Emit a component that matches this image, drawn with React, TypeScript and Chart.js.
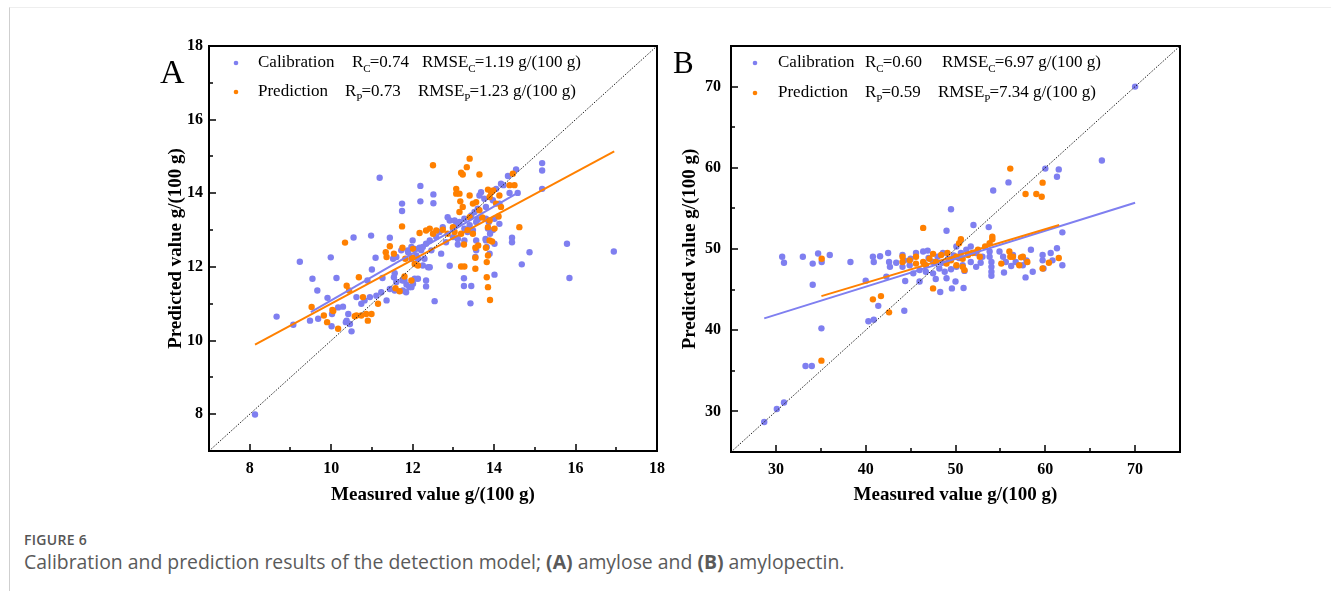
import React, { useEffect, useRef } from 'react';
import { Chart, registerables } from 'chart.js';
Chart.register(...registerables);

const BLUE = '#7f7ff0';
const ORANGE = '#ff8000';
const SERIF = '"Liberation Serif", "Times New Roman", serif';

// ---------- Panel A (amylose) ----------
const A_X_TICKS = [8, 10, 12, 14, 16, 18];
const A_Y_TICKS = [8, 10, 12, 14, 16, 18];
const A_MINOR = [7, 9, 11, 13, 15, 17];
const A_RANGE = [7, 18];
const A_DIAG: [number, number][] = [[7, 7], [18, 18]];
const A_CAL_FIT: [number, number][] = [[9.5, 10.77], [14.62, 14.04]];
const A_PRED_FIT: [number, number][] = [[8.13, 9.89], [16.95, 15.14]];
const A_STATS = { rc: '0.74', rmsec: '1.19', rp: '0.73', rmsep: '1.23' };

const A_CAL: [number, number][] = [
  [8.13, 7.99], [8.66, 10.65], [9.07, 10.43], [9.23, 12.14], [9.48, 10.54], [9.54, 11.68], [9.66, 11.36],
  [9.68, 10.59], [9.91, 11.16], [9.99, 12.26], [10.01, 10.39], [10.02, 10.72], [10.13, 11.7], [10.17, 10.9],
  [10.29, 10.92], [10.36, 10.5], [10.38, 10.54], [10.42, 10.72], [10.46, 10.45], [10.5, 10.25], [10.55, 12.8],
  [10.62, 11.18], [10.74, 11.0], [10.82, 11.09], [10.89, 11.63], [10.95, 11.18], [10.98, 12.85], [11.0, 11.93],
  [11.09, 12.25], [11.11, 11.22], [11.19, 14.42], [11.23, 11.31], [11.26, 11.7], [11.36, 11.09], [11.44, 11.4],
  [11.44, 12.79], [11.52, 12.22], [11.54, 11.72], [11.56, 11.36], [11.56, 11.83], [11.6, 11.59], [11.6, 12.27],
  [11.72, 12.45], [11.74, 13.72], [11.74, 13.52], [11.75, 11.63], [11.76, 11.36], [11.8, 11.63], [11.84, 11.31],
  [11.85, 11.52], [11.88, 12.45], [11.89, 12.4], [11.92, 11.45], [11.97, 11.45], [11.97, 12.22], [11.97, 12.54],
  [12.0, 12.72], [12.01, 11.54], [12.05, 11.68], [12.05, 12.49], [12.09, 12.31], [12.13, 11.68], [12.13, 12.22],
  [12.17, 12.52], [12.19, 14.2], [12.19, 13.78], [12.21, 12.45], [12.25, 12.04], [12.25, 12.54], [12.29, 12.22],
  [12.33, 11.47], [12.33, 11.63], [12.33, 12.63], [12.38, 11.99], [12.42, 11.99], [12.42, 12.72], [12.46, 12.45],
  [12.51, 13.97], [12.51, 13.73], [12.54, 11.07], [12.58, 12.81], [12.66, 12.95], [12.7, 12.36], [12.74, 13.08],
  [12.82, 12.67], [12.86, 13.35], [12.91, 13.26], [12.91, 12.03], [12.99, 13.04], [12.99, 12.81], [13.03, 13.26],
  [13.07, 13.13], [13.11, 12.76], [13.11, 12.61], [13.15, 13.22], [13.26, 11.69], [13.26, 11.48], [13.27, 13.31],
  [13.27, 13.04], [13.27, 12.72], [13.35, 12.95], [13.4, 13.13], [13.42, 11.01], [13.44, 13.4], [13.44, 11.48],
  [13.48, 13.0], [13.52, 13.49], [13.54, 12.27], [13.56, 13.22], [13.56, 12.72], [13.56, 12.45], [13.6, 13.58],
  [13.6, 13.29], [13.64, 13.94], [13.68, 14.03], [13.76, 13.85], [13.79, 12.76], [13.8, 13.63], [13.8, 13.31],
  [13.8, 12.72], [13.82, 12.54], [13.85, 13.04], [13.87, 13.22], [13.89, 12.36], [13.9, 12.9], [13.93, 14.03],
  [13.97, 13.81], [13.97, 13.0], [14.01, 13.31], [14.01, 12.63], [14.01, 11.79], [14.05, 14.12], [14.13, 13.72],
  [14.13, 13.17], [14.17, 14.26], [14.23, 14.22], [14.34, 14.47], [14.38, 14.01], [14.44, 12.79], [14.44, 12.67],
  [14.54, 14.65], [14.58, 14.01], [14.68, 12.07], [14.87, 12.4], [15.18, 14.82], [15.18, 14.62], [15.18, 14.12],
  [15.79, 12.63], [15.85, 11.7], [16.94, 12.42],
];

const A_PRED: [number, number][] = [
  [9.52, 10.91], [9.82, 10.68], [9.9, 10.5], [10.03, 10.83], [10.05, 10.8], [10.17, 10.32], [10.34, 12.66],
  [10.38, 11.49], [10.44, 11.36], [10.58, 10.66], [10.62, 10.68], [10.68, 11.72], [10.74, 10.68], [10.78, 11.18],
  [10.86, 10.72], [10.9, 10.54], [10.99, 10.72], [11.15, 11.0], [11.34, 12.4], [11.36, 12.27], [11.44, 12.56],
  [11.54, 12.36], [11.58, 11.42], [11.68, 11.34], [11.74, 13.1], [11.75, 12.52], [11.8, 11.74], [11.82, 12.22],
  [11.97, 11.63], [11.99, 12.25], [12.01, 12.49], [12.05, 12.08], [12.13, 12.04], [12.17, 12.92], [12.33, 12.99],
  [12.42, 13.04], [12.5, 14.76], [12.5, 12.9], [12.58, 12.99], [12.74, 13.01], [12.86, 12.9], [12.99, 13.08],
  [13.03, 12.95], [13.07, 14.12], [13.07, 13.99], [13.15, 13.99], [13.15, 13.49], [13.17, 13.78], [13.19, 14.56],
  [13.19, 12.9], [13.19, 12.01], [13.23, 14.51], [13.23, 13.63], [13.26, 12.61], [13.27, 12.01], [13.33, 14.71],
  [13.35, 13.0], [13.4, 14.94], [13.4, 13.94], [13.4, 13.35], [13.48, 13.72], [13.48, 12.9], [13.54, 12.52],
  [13.54, 12.25], [13.54, 11.95], [13.56, 13.76], [13.61, 12.58], [13.64, 14.51], [13.64, 13.54], [13.71, 13.34],
  [13.8, 12.52], [13.82, 12.13], [13.82, 11.72], [13.85, 14.1], [13.85, 13.08], [13.85, 12.31], [13.85, 11.45],
  [13.89, 13.9], [13.89, 13.26], [13.89, 12.72], [13.9, 11.1], [13.93, 14.03], [13.95, 12.69], [13.98, 14.08],
  [14.01, 13.04], [14.05, 13.72], [14.11, 13.37], [14.13, 13.94], [14.17, 13.63], [14.38, 14.22], [14.46, 14.53],
  [14.5, 14.22], [14.62, 13.08],
];

// ---------- Panel B (amylopectin) ----------
const B_TICKS = [30, 40, 50, 60, 70];
const B_MINOR = [25, 35, 45, 55, 65, 75];
const B_RANGE = [25, 75];
const B_DIAG: [number, number][] = [[25, 25], [75, 75]];
const B_CAL_FIT: [number, number][] = [[28.7, 41.46], [70.0, 55.7]];
const B_PRED_FIT: [number, number][] = [[35.07, 44.2], [61.55, 52.95]];
const B_STATS = { rc: '0.60', rmsec: '6.97', rp: '0.59', rmsep: '7.34' };

const B_CAL: [number, number][] = [
  [28.7, 28.7], [30.1, 30.3], [30.7, 49.05], [30.9, 48.3], [30.9, 31.1], [33.0, 49.05], [33.3, 35.6],
  [34.0, 35.6], [34.1, 48.2], [34.1, 45.6], [34.7, 49.45], [35.1, 48.4], [35.07, 40.23], [36.0, 49.26],
  [38.3, 48.4], [40.0, 46.1], [40.3, 41.1], [40.8, 49.05], [40.9, 48.4], [40.9, 41.3], [41.4, 43.0],
  [41.6, 49.1], [42.3, 46.6], [42.5, 49.5], [42.6, 48.4], [42.7, 47.8], [43.4, 48.3], [44.1, 49.26],
  [44.1, 47.8], [44.3, 48.6], [44.3, 42.4], [44.4, 46.06], [44.9, 48.0], [45.0, 48.8], [45.3, 47.0],
  [45.6, 49.5], [46.0, 47.4], [46.0, 46.0], [46.4, 49.7], [46.5, 48.2], [46.7, 47.2], [46.9, 49.8],
  [47.0, 48.9], [47.5, 48.4], [47.5, 47.0], [47.8, 46.3], [48.0, 49.05], [48.2, 47.6], [48.3, 44.7],
  [48.5, 48.3], [48.6, 49.5], [48.8, 47.2], [49.0, 52.25], [49.0, 46.4], [49.2, 48.8], [49.5, 54.9],
  [49.5, 47.5], [49.6, 45.15], [49.8, 49.2], [50.0, 46.0], [50.1, 50.3], [50.1, 47.8], [50.4, 48.9],
  [50.6, 49.5], [50.8, 48.0], [50.9, 45.2], [51.0, 47.3], [51.2, 49.9], [51.7, 50.3], [51.7, 48.4],
  [52.0, 52.95], [52.3, 49.5], [52.3, 47.8], [52.8, 48.3], [53.0, 49.05], [53.7, 52.7], [53.8, 49.7],
  [53.8, 49.05], [54.0, 48.4], [54.0, 47.8], [54.0, 47.2], [54.0, 46.7], [54.2, 57.2], [54.9, 49.7],
  [55.3, 49.05], [55.4, 47.1], [55.6, 48.4], [55.9, 58.2], [56.2, 47.9], [56.4, 49.26], [56.7, 48.4],
  [57.5, 48.0], [57.8, 46.5], [57.9, 48.6], [58.4, 49.9], [58.6, 47.2], [59.7, 49.26], [59.7, 48.6],
  [59.8, 47.6], [60.0, 59.9], [60.6, 49.5], [60.8, 48.6], [61.3, 50.1], [61.3, 58.9], [61.5, 59.8],
  [61.9, 52.05], [61.9, 48.0], [66.3, 60.9], [70.0, 70.0],
];

const B_PRED: [number, number][] = [
  [35.07, 36.25], [35.1, 48.8], [40.8, 43.8], [41.7, 44.2], [42.6, 42.2], [44.1, 49.05], [44.1, 48.4],
  [44.9, 48.6], [45.6, 49.05], [45.6, 48.2], [46.4, 52.6], [46.4, 48.4], [46.7, 48.0], [47.1, 48.8],
  [47.5, 49.4], [47.5, 45.15], [47.8, 48.4], [48.4, 49.26], [49.0, 48.2], [49.1, 49.5], [49.5, 48.6],
  [50.1, 49.05], [50.1, 48.0], [50.4, 50.7], [50.6, 51.2], [50.8, 48.8], [50.8, 47.8], [51.0, 47.4],
  [51.4, 49.26], [51.9, 49.5], [52.5, 49.9], [52.7, 49.05], [53.3, 50.3], [53.8, 50.7], [54.1, 51.5],
  [54.1, 51.2], [55.1, 48.2], [56.0, 49.7], [56.1, 59.9], [56.1, 49.05], [56.4, 49.05], [57.1, 48.0],
  [57.3, 48.97], [57.5, 49.05], [57.8, 56.77], [58.0, 48.4], [59.0, 56.77], [59.6, 56.44], [59.7, 58.17],
  [59.7, 47.6], [60.4, 48.3], [61.5, 48.9],
];

const X_TITLE = 'Measured value g/(100 g)';
const Y_TITLE = 'Predicted value g/(100 g)';
const CAL_NAME = 'Calibration';
const PRED_NAME = 'Prediction';
const CAPTION_HEAD = 'FIGURE 6';

type PanelCfg = {
  letter: string;
  letterSize: number;
  letterDx: number;
  letterDy: number;
  range: number[];
  xTicks: number[];
  yTicks: number[];
  minor: number[];
  diag: [number, number][];
  calFit: [number, number][];
  predFit: [number, number][];
  cal: [number, number][];
  pred: [number, number][];
  stats: { rc: string; rmsec: string; rp: string; rmsep: string };
  left: number;
  top: number;
  width: number;
  height: number;
  yAxisW: number;
  xAxisH: number;
  padTop: number;
  padRight: number;
  yTitlePad: number;
  yTickPad: number;
  legend: { dotX: number; nameX: number; rX: number[]; rmseX: number[]; y: number[] };
};

const toPts = (a: [number, number][]) => a.map(([x, y]) => ({ x, y }));

function drawSub(ctx: CanvasRenderingContext2D, x: number, y: number, main: string, sub: string, rest: string) {
  ctx.font = `17px ${SERIF}`;
  ctx.fillText(main, x, y);
  let cx = x + ctx.measureText(main).width;
  ctx.font = `11px ${SERIF}`;
  ctx.fillText(sub, cx, y + 6);
  cx += ctx.measureText(sub).width - 1;
  ctx.font = `17px ${SERIF}`;
  ctx.fillText(rest, cx, y);
}

function makeDecor(cfg: PanelCfg) {
  return {
    id: 'decor' + cfg.letter,
    afterDatasetsDraw(chart: any) {
      const ctx: CanvasRenderingContext2D = chart.ctx;
      const { left, right, top, bottom } = chart.chartArea;
      const xs = chart.scales.x;
      const ys = chart.scales.y;
      ctx.save();
      ctx.strokeStyle = '#000';
      ctx.lineWidth = 1.5;
      ctx.beginPath();
      cfg.xTicks.forEach((v) => { const p = Math.round(xs.getPixelForValue(v)); ctx.moveTo(p, bottom); ctx.lineTo(p, bottom - 7); });
      cfg.minor.forEach((v) => { const p = Math.round(xs.getPixelForValue(v)); ctx.moveTo(p, bottom); ctx.lineTo(p, bottom - 4); });
      cfg.yTicks.forEach((v) => { const p = Math.round(ys.getPixelForValue(v)); ctx.moveTo(left, p); ctx.lineTo(left + 7, p); });
      cfg.minor.forEach((v) => { const p = Math.round(ys.getPixelForValue(v)); ctx.moveTo(left, p); ctx.lineTo(left + 4, p); });
      ctx.stroke();
      ctx.lineWidth = 2;
      ctx.strokeRect(left, top, right - left, bottom - top);
      ctx.restore();
    },
    afterDraw(chart: any) {
      const ctx: CanvasRenderingContext2D = chart.ctx;
      const { left, top } = chart.chartArea;
      ctx.save();
      ctx.fillStyle = '#000';
      ctx.textBaseline = 'alphabetic';
      ctx.font = `${cfg.letterSize}px ${SERIF}`;
      ctx.fillText(cfg.letter, left + cfg.letterDx, top + cfg.letterDy);
      const L = cfg.legend;
      const rows = [
        { color: BLUE, name: CAL_NAME, sub: 'C', r: cfg.stats.rc, rmse: cfg.stats.rmsec },
        { color: ORANGE, name: PRED_NAME, sub: 'P', r: cfg.stats.rp, rmse: cfg.stats.rmsep },
      ];
      ctx.textBaseline = 'middle';
      rows.forEach((row, i) => {
        const y = top + L.y[i];
        ctx.fillStyle = row.color;
        ctx.beginPath();
        ctx.arc(left + L.dotX, y, 2.3, 0, Math.PI * 2);
        ctx.fill();
        ctx.fillStyle = '#000';
        ctx.font = `17px ${SERIF}`;
        ctx.fillText(row.name, left + L.nameX, y);
        drawSub(ctx, left + L.rX[i], y, 'R', row.sub, '=' + row.r);
        drawSub(ctx, left + L.rmseX[i], y, 'RMSE', row.sub, '=' + row.rmse + ' g/(100 g)');
      });
      ctx.restore();
    },
  };
}

function Panel({ cfg }: { cfg: PanelCfg }) {
  const ref = useRef<HTMLCanvasElement>(null);
  useEffect(() => {
    if (!ref.current) return;
    const tickFont = { family: SERIF, weight: 'bold' as const, size: 16 };
    const titleFont = { family: SERIF, weight: 'bold' as const, size: 19 };
    const chart = new Chart(ref.current, {
      type: 'scatter',
      data: {
        datasets: [
          { label: 'diag', data: toPts(cfg.diag), showLine: true, borderColor: '#222', borderWidth: 1, borderDash: [1.5, 1.5], pointRadius: 0, order: 0 },
          { label: 'predFit', data: toPts(cfg.predFit), showLine: true, borderColor: ORANGE, borderWidth: 2, pointRadius: 0, order: 1 },
          { label: 'calFit', data: toPts(cfg.calFit), showLine: true, borderColor: BLUE, borderWidth: 2, pointRadius: 0, order: 2 },
          { label: 'Prediction', data: toPts(cfg.pred), backgroundColor: ORANGE, borderWidth: 0, pointRadius: 3.2, order: 3 },
          { label: 'Calibration', data: toPts(cfg.cal), backgroundColor: BLUE, borderWidth: 0, pointRadius: 3.2, order: 4 },
        ] as any,
      },
      options: {
        animation: false,
        responsive: false,
        maintainAspectRatio: false,
        layout: { padding: { top: cfg.padTop, right: cfg.padRight, left: 0, bottom: 0 } },
        plugins: { legend: { display: false }, tooltip: { enabled: false } },
        scales: {
          x: {
            type: 'linear',
            min: cfg.range[0],
            max: cfg.range[1],
            grid: { display: false, drawTicks: false },
            border: { display: false },
            afterBuildTicks: (s: any) => { s.ticks = cfg.xTicks.map((v) => ({ value: v })); },
            afterFit: (s: any) => { s.height = cfg.xAxisH; s.paddingLeft = 0; s.paddingRight = 0; },
            ticks: { font: tickFont, color: '#000', padding: 8, maxRotation: 0, autoSkip: false },
            title: { display: true, text: X_TITLE, font: titleFont, color: '#000', padding: { top: 0, bottom: 14 } },
          },
          y: {
            type: 'linear',
            min: cfg.range[0],
            max: cfg.range[1],
            grid: { display: false, drawTicks: false },
            border: { display: false },
            afterBuildTicks: (s: any) => { s.ticks = cfg.yTicks.map((v) => ({ value: v })); },
            afterFit: (s: any) => { s.width = cfg.yAxisW; s.paddingTop = 0; s.paddingBottom = 0; },
            ticks: { font: tickFont, color: '#000', padding: cfg.yTickPad, autoSkip: false },
            title: { display: true, text: Y_TITLE, font: titleFont, color: '#000', padding: { top: cfg.yTitlePad, bottom: 0 } },
          },
        },
      } as any,
      plugins: [makeDecor(cfg)],
    });
    return () => chart.destroy();
  }, [cfg]);
  return (
    <canvas
      ref={ref}
      width={cfg.width}
      height={cfg.height}
      style={{ position: 'absolute', left: cfg.left, top: cfg.top, width: cfg.width, height: cfg.height }}
    />
  );
}

const PANEL_A: PanelCfg = {
  letter: 'A', letterSize: 34, letterDx: -49, letterDy: 37,
  range: A_RANGE, xTicks: A_X_TICKS, yTicks: A_Y_TICKS, minor: A_MINOR,
  diag: A_DIAG, calFit: A_CAL_FIT, predFit: A_PRED_FIT, cal: A_CAL, pred: A_PRED, stats: A_STATS,
  left: 140, top: 30, width: 540, height: 490, yAxisW: 69, xAxisH: 69, padTop: 16, padRight: 23,
  yTitlePad: 25, yTickPad: 6,
  legend: { dotX: 27, nameX: 49, rX: [143, 136], rmseX: [213, 209], y: [17, 46] },
};

const PANEL_B: PanelCfg = {
  letter: 'B', letterSize: 31, letterDx: -58, letterDy: 27,
  range: B_RANGE, xTicks: B_TICKS, yTicks: B_TICKS, minor: B_MINOR,
  diag: B_DIAG, calFit: B_CAL_FIT, predFit: B_PRED_FIT, cal: B_CAL, pred: B_PRED, stats: B_STATS,
  left: 662, top: 30, width: 540, height: 490, yAxisW: 69, xAxisH: 68, padTop: 16, padRight: 22,
  yTitlePad: 17, yTickPad: 10,
  legend: { dotX: 24, nameX: 47, rX: [134, 134], rmseX: [211, 207], y: [17, 47] },
};

export default function App() {
  return (
    <div style={{ position: 'absolute', left: 0, top: 0, width: 1331, height: 591, background: '#fff', overflow: 'hidden' }}>
      <div style={{ position: 'absolute', left: 9, top: 7, width: 1322, height: 584, borderLeft: '1px solid #cfcfcf', borderTop: '1px solid #eeeeee' }} />
      <Panel cfg={PANEL_A} />
      <Panel cfg={PANEL_B} />
      <div style={{ position: 'absolute', left: 24, top: 530, fontFamily: '"Open Sans", "Noto Sans", sans-serif', fontSize: 14, fontWeight: 600, color: '#555', letterSpacing: 0.3 }}>
        {CAPTION_HEAD}
      </div>
      <div style={{ position: 'absolute', left: 24, top: 548, fontFamily: '"Open Sans", "Noto Sans", sans-serif', fontSize: 19.4, color: '#5a5a5a', whiteSpace: 'nowrap' }}>
        Calibration and prediction results of the detection model; <b>(A)</b> amylose and <b>(B)</b> amylopectin.
      </div>
    </div>
  );
}
